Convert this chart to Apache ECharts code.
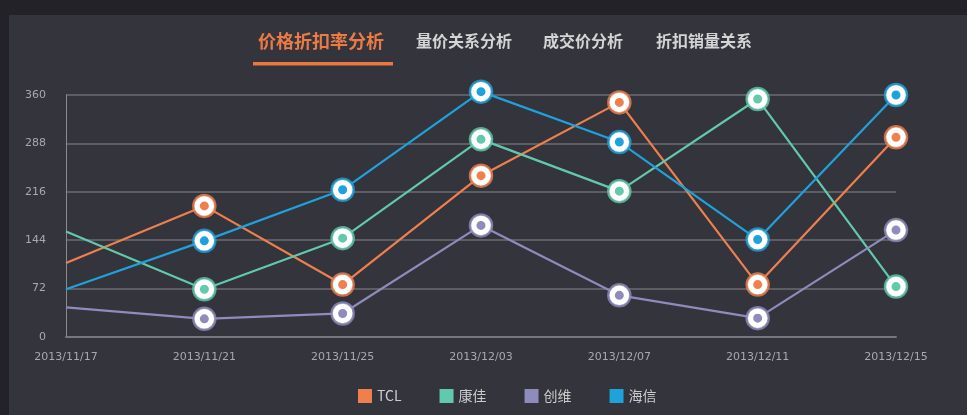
<!DOCTYPE html>
<html>
<head>
<meta charset="utf-8">
<script src="https://cdn.jsdelivr.net/npm/echarts@6/dist/echarts.min.js"></script>
<style>
  html, body { margin: 0; padding: 0; background: #222228; }
  #main { width: 967px; height: 415px; }
</style>
</head>
<body>
<div id="main"></div>
<script>
const categories = ['2013/11/17', '2013/11/21', '2013/11/25', '2013/12/03', '2013/12/07', '2013/12/11', '2013/12/15'];
const brands = ['TCL', '康佳', '创维', '海信'];
const colors = ['#f07f4e', '#62c9ac', '#8e8bbd', '#1fa2db'];
const tcl = [110, 195, 78, 240, 349, 78, 297];
const kangjia = [157, 71, 147, 294, 217, 354, 75];
const chuangwei = [44, 27, 35, 166, 62, 28, 159];
const haixin = [71, 143, 219, 365, 290, 145, 360];
const tabs = ['价格折扣率分析', '量价关系分析', '成交价分析', '折扣销量关系'];

(function () {
  const values = [tcl, kangjia, chuangwei, haixin];
  const font = '"Noto Sans CJK SC", "Noto Sans", sans-serif';
  const chart = echarts.init(document.getElementById('main'));

  let series = [];
  brands.forEach((name, i) => {
    // line with the white ring and coloured centre
    series.push({
      name: name,
      type: 'line',
      data: values[i],
      z: 2,
      clip: false,
      symbol: (v, p) => p.dataIndex === 0 ? 'none' : 'circle',
      symbolSize: 15,
      itemStyle: { color: colors[i], borderColor: '#fff', borderWidth: 6 },
      lineStyle: { color: colors[i], width: 2.2 }
    });
    // outer coloured ring
    series.push({
      name: name,
      type: 'scatter',
      data: values[i].map((v, k) => k === 0 ? '-' : v),
      z: 3,
      clip: false,
      silent: true,
      symbolSize: 22,
      itemStyle: { color: 'rgba(0,0,0,0)', borderColor: colors[i], borderWidth: 2.5 }
    });
  });

  // tab headers
  const tabX = [258, 416, 543, 656];
  let graphic = [{
    type: 'rect', z: -10, silent: true,
    shape: { x: 9, y: 15, width: 958, height: 400 },
    style: { fill: '#33343c' }
  }];
  tabs.forEach((t, i) => {
    graphic.push({
      type: 'text',
      style: {
        x: tabX[i], y: 41, text: t,
        font: 'bold ' + (i === 0 ? 18 : 16) + 'px ' + font,
        fill: i === 0 ? '#ec7a45' : '#d4d4d4',
        textVerticalAlign: 'middle'
      }
    });
  });
  graphic.push({
    type: 'rect',
    shape: { x: 253, y: 62, width: 140, height: 3.5 },
    style: { fill: '#ea7640' }
  });

  option = {
    backgroundColor: '#222228',
    color: colors,
    animation: false,
    graphic: graphic,
    legend: {
      data: brands,
      left: 353,
      top: 384,
      icon: 'rect',
      itemWidth: 14,
      itemHeight: 14,
      itemGap: 38,
      itemStyle: { borderWidth: 0 },
      textStyle: { color: '#cccccc', fontSize: 14, fontFamily: font }
    },
    grid: { left: 66, right: 71, top: 95, bottom: 78 },
    xAxis: {
      type: 'category',
      boundaryGap: false,
      data: categories,
      axisLine: { lineStyle: { color: '#77777c', width: 2 } },
      axisTick: { show: false },
      axisLabel: { color: '#a9a9ad', fontSize: 11, fontFamily: 'DejaVu Sans', margin: 15 },
      splitLine: { show: false }
    },
    yAxis: {
      type: 'value',
      min: 0,
      max: 360,
      interval: 72,
      axisLine: { show: true, lineStyle: { color: '#8a8a8f', width: 1 } },
      axisTick: { show: false },
      axisLabel: { color: '#a9a9ad', fontSize: 11, fontFamily: 'DejaVu Sans', margin: 20 },
      splitLine: { lineStyle: { color: '#6c6c72', width: 1.5 } }
    },
    series: series
  };

  chart.setOption(option);
})();
</script>
</body>
</html>
